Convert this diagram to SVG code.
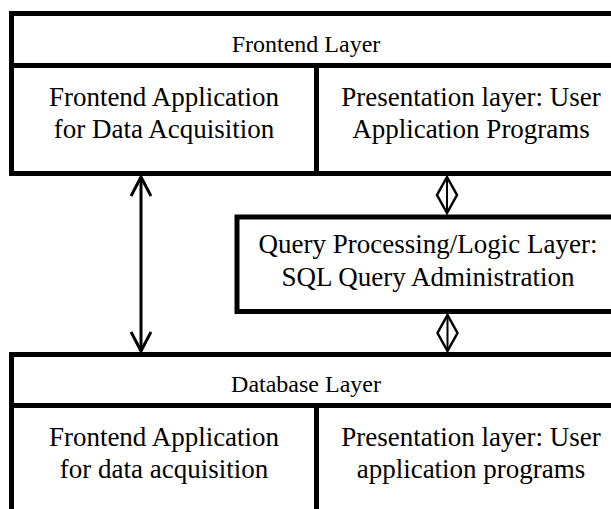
<svg xmlns="http://www.w3.org/2000/svg" width="611" height="509" viewBox="0 0 611 509">
<defs>
<style>
.frame{fill:none;stroke:#000;stroke-width:5}
.t{font-family:"Liberation Serif","Times New Roman",serif;font-size:27px;fill:#000;text-anchor:middle}
.h{font-size:24px}
.conn{fill:none;stroke:#000;stroke-width:3}
.dia{fill:#fff;stroke:#000;stroke-width:2.5;stroke-linejoin:miter}
</style>
<marker id="arr" viewBox="0 0 22 22" refX="20" refY="11" markerWidth="22" markerHeight="22" markerUnits="userSpaceOnUse" orient="auto-start-reverse">
<path d="M1,1 L20,11 L1,21" fill="none" stroke="#000" stroke-width="3"/>
</marker>
</defs>
<rect width="611" height="509" fill="#fff"/>
<g id="frontend-layer">
<path class="frame" d="M620,13.5 H11.5 V173.5 H620 M11.5,65.5 H620 M316.5,65.5 V173.5"/>
<text class="t h" x="306" y="52">Frontend Layer</text>
<g id="frontend-app">
<text class="t" x="164" y="106">Frontend Application</text>
<text class="t" x="164" y="138">for Data Acquisition</text>
</g>
<g id="presentation-layer">
<text class="t" x="471" y="106">Presentation layer: User</text>
<text class="t" x="471" y="138">Application Programs</text>
</g>
</g>
<g id="query-layer">
<path class="frame" d="M620,217 H237 V311.5 H620"/>
<text class="t" x="428" y="253">Query Processing/Logic Layer:</text>
<text class="t" x="428" y="286">SQL Query Administration</text>
</g>
<g id="database-layer">
<path class="frame" d="M620,354.5 H11.5 V520 M11.5,405.5 H620 M316.5,405.5 V520"/>
<text class="t h" x="306" y="392">Database Layer</text>
<g id="db-frontend-app">
<text class="t" x="164" y="446">Frontend Application</text>
<text class="t" x="164" y="478">for data acquisition</text>
</g>
<g id="db-presentation-layer">
<text class="t" x="471" y="446">Presentation layer: User</text>
<text class="t" x="471" y="478">application programs</text>
</g>
</g>
<g id="connectors">
<line class="conn" x1="141" y1="177" x2="141" y2="351" marker-start="url(#arr)" marker-end="url(#arr)"/>
<polygon class="dia" points="447,177 457,195 447,213 437,195"/>
<line x1="447" y1="177" x2="447" y2="213" stroke="#000" stroke-width="2"/>
<polygon class="dia" points="447.5,315 457.5,333 447.5,351 437.5,333"/>
<line x1="447.5" y1="315" x2="447.5" y2="351" stroke="#000" stroke-width="2"/>
</g>
</svg>
